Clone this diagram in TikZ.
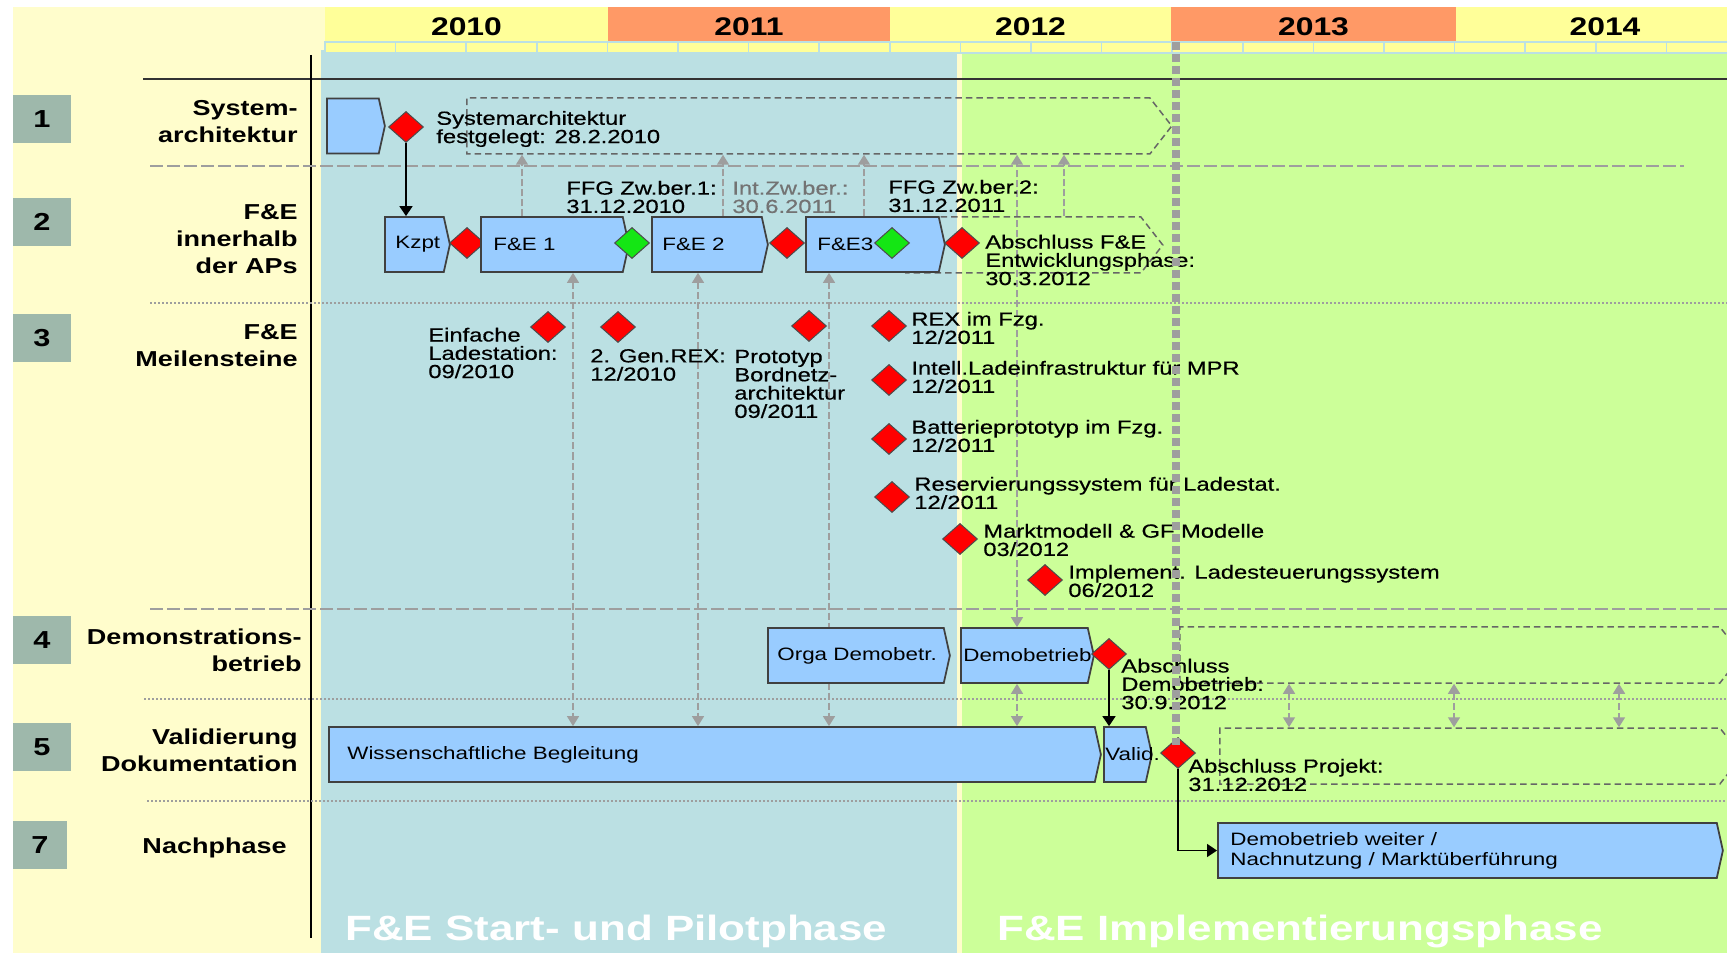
\documentclass[tikz,border=0pt]{standalone}
\usepackage{fontspec}
\setmainfont[FakeStretch=1.25]{Liberation Sans}
\newfontfamily\msfamily[FakeStretch=1.25,FakeBold=0.5]{Liberation Sans}
\usetikzlibrary{shapes.geometric,shapes.symbols,arrows.meta,positioning}

\definecolor{leftbg}{RGB}{255,253,204}
\definecolor{pilotbg}{RGB}{187,224,227}
\definecolor{implbg}{RGB}{204,255,153}
\definecolor{yearyel}{RGB}{255,255,153}
\definecolor{yearora}{RGB}{255,153,102}
\definecolor{numgray}{RGB}{158,184,171}
\definecolor{apblue}{RGB}{153,204,255}
\definecolor{msgreen}{RGB}{20,230,20}
\definecolor{linkgray}{RGB}{158,158,158}

\pgfdeclarelayer{back}
\pgfdeclarelayer{links}
\pgfsetlayers{back,links,main}

\tikzset{
  apbox/.style={signal, signal to=east, signal pointer angle=155, anchor=west,
    minimum height=11mm, inner sep=0pt, fill=apblue, draw=black!75, line width=0.35mm},
  planbox/.style={signal, signal to=east, signal pointer angle=104, anchor=west,
    minimum height=11.2mm, inner sep=0pt, draw=black!60, line width=0.3mm,
    dash pattern=on 1.3mm off 0.8mm},
  redms/.style={diamond, minimum width=7mm, minimum height=6.2mm, inner sep=0pt,
    fill=red, draw=black!70, line width=0.2mm},
  greenms/.style={redms, fill=msgreen},
  mslabel/.style={anchor=west, align=left, inner sep=0pt,
    font=\msfamily\fontsize{10.8}{10.4}\selectfont},
  boxtext/.style={anchor=west, align=left, inner sep=0pt,
    font=\fontsize{10.2}{11.3}\selectfont},
  rowlabel/.style={anchor=east, align=right, inner sep=0pt,
    font=\fontsize{12.3}{15.3}\selectfont\bfseries},
  rownum/.style={fill=numgray, minimum width=11.4mm, minimum height=9.6mm, inner sep=0pt,
    font=\fontsize{14}{14}\selectfont\bfseries},
  yearlabel/.style={inner sep=0pt, font=\fontsize{14.5}{14.5}\selectfont\bfseries},
  phase/.style={anchor=west, inner sep=0pt, text=white,
    font=\fontsize{20}{20}\selectfont\bfseries},
  link/.style={draw=linkgray, line width=0.3mm, dash pattern=on 1.4mm off 0.6mm},
  linkup/.style={link, -{Triangle[length=2mm,width=2.4mm]}},
  linkboth/.style={link, {Triangle[length=2mm,width=2.4mm]}-{Triangle[length=2mm,width=2.4mm]}},
  flow/.style={draw=black, line width=0.3mm, -{Triangle[length=2mm,width=2.6mm]}},
  sepdash/.style={draw=linkgray, line width=0.3mm, dash pattern=on 2.6mm off 0.8mm},
  sepdot/.style={draw=linkgray, line width=0.3mm, dash pattern=on 0.4mm off 0.4mm},
  today/.style={draw=linkgray, line width=1.7mm, dash pattern=on 1.6mm off 0.8mm}
}

\begin{document}
\begin{tikzpicture}[x=0.2mm, y=-0.2mm]
  \useasboundingbox (0,0) rectangle (1727,953);

  %%%%%%%%%%%%%The background%%%%%%%%%%%%%%%%%%%%%%
  \begin{pgfonlayer}{back}
  \fill[white] (0,0) rectangle (1727,953);
  \fill[leftbg] (13,7) rectangle (1727,953);
  \fill[pilotbg] (321,50) rectangle (957,953);
  \fill[implbg] (962,50) rectangle (1727,953);

  \foreach \yr/\xa/\xb/\yc in {2010/325/608/yearyel, 2011/608/890/yearora,
      2012/890/1171/yearyel, 2013/1171/1456/yearora, 2014/1456/1754/yearyel}{
    \fill[\yc] (\xa,7) rectangle (\xb,42);
    \node[yearlabel] (y\yr) at ({(\xa+\xb)/2},27) {\yr};
  }
  \foreach \q in {0,...,19}
    \draw[pilotbg, fill=yearyel, line width=0.3mm] ({325+70.6*\q},42) rectangle ({325+70.6*(\q+1)},53);

  \draw[black!80, line width=0.4mm] (143,79) -- (1727,79);
  \draw[black, line width=0.3mm] (311,55) -- (311,938);

  \draw[sepdash] (150,166) -- (1684,166);
  \draw[sepdot] (150,303) -- (1727,303);
  \draw[sepdash] (150,609) -- (1727,609);
  \draw[sepdot] (144,699) -- (1727,699);
  \draw[sepdot] (147,801) -- (1727,801);
  \end{pgfonlayer}

  %%%%%%%%%%%%%Row labels%%%%%%%%%%%%%%%%%%%%%%
  \node[rownum] (n1) at (42,119) {1};
  \node[rownum] (n2) at (42,222) {2};
  \node[rownum] (n3) at (42,338) {3};
  \node[rownum] (n4) at (42,640) {4};
  \node[rownum] (n5) at (42,747) {5};
  \node[rownum, minimum width=10.8mm] (n7) at (40,845) {7};

  \node[rowlabel] (r1) at (298,122) {System-\\architektur};
  \node[rowlabel] (r2) at (298,239) {F\&E\\innerhalb\\der APs};
  \node[rowlabel] (r3) at (298,346) {F\&E\\Meilensteine};
  \node[rowlabel] (r4) at (302,650) {Demonstrations-\\betrieb};
  \node[rowlabel] (r5) at (298,750) {Validierung\\Dokumentation};
  \node[rowlabel] (r7) at (287,848) {Nachphase};

  %%%%%%%%%%%%%Row 1%%%%%%%%%%%%%%%%%%%%%%
  \node[planbox, minimum width=141mm] (sysplan) at (466,126) {};
  \node[apbox, minimum width=11.6mm] (sysa) at (326,126) {};
  \node[redms] (d0) at (406,127) {};
  \node[mslabel] (t0) at (436,129) {Systemarchitektur\\festgelegt: 28.2.2010};

  %%%%%%%%%%%%%Row 2%%%%%%%%%%%%%%%%%%%%%%
  \node[planbox, minimum width=51.4mm] (devplan) at (905,245) {};
  \node[apbox, minimum width=13mm] (kzpt) at (384,244.5) {};
  \node[boxtext, right=2.2mm of kzpt.west] (kzptt) {Kzpt};
  \node[redms] (d1) at (467,243) {};
  \node[apbox, minimum width=29.6mm] (fe1) at (480,244.5) {};
  \node[boxtext, right=2.6mm of fe1.west] (fe1t) {F\&E 1};
  \node[greenms] (g1) at (632,243) {};
  \node[apbox, minimum width=23.2mm] (fe2) at (651,244.5) {};
  \node[boxtext, right=2.2mm of fe2.west] (fe2t) {F\&E 2};
  \node[redms] (d2) at (787,243) {};
  \node[apbox, minimum width=27.8mm] (fe3) at (805,244.5) {};
  \node[boxtext, right=2.4mm of fe3.west] (fe3t) {F\&E3};
  \node[greenms] (g2) at (892,243) {};
  \node[redms] (d3) at (962,243) {};
  \node[mslabel] (t3) at (985,260) {Abschluss F\&E\\Entwicklungsphase:\\30.3.2012};
  \node[mslabel] (t1) at (566,197) {FFG Zw.ber.1:\\31.12.2010};
  \node[mslabel, text=black!55] (t2) at (732,197) {Int.Zw.ber.:\\30.6.2011};
  \node[mslabel] (t4) at (888,196) {FFG Zw.ber.2:\\31.12.2011};

  %%%%%%%%%%%%%Row 3%%%%%%%%%%%%%%%%%%%%%%
  \node[redms] (m1) at (548,327) {};
  \node[mslabel] (m1t) at (428,353) {Einfache\\Ladestation:\\09/2010};
  \node[redms] (m2) at (618,327) {};
  \node[mslabel] (m2t) at (590,365) {2. Gen.REX:\\12/2010};
  \node[redms] (m3) at (809,326) {};
  \node[mslabel] (m3t) at (734,384) {Prototyp\\Bordnetz-\\architektur\\09/2011};
  \node[redms] (m4) at (889,326) {};
  \node[mslabel] (m4t) at (911,328) {REX im Fzg.\\12/2011};
  \node[redms] (m5) at (889,380) {};
  \node[mslabel] (m5t) at (911,377) {Intell.Ladeinfrastruktur für MPR\\12/2011};
  \node[redms] (m6) at (889,439) {};
  \node[mslabel] (m6t) at (911,436) {Batterieprototyp im Fzg.\\12/2011};
  \node[redms] (m7) at (892,497) {};
  \node[mslabel] (m7t) at (914,493) {Reservierungssystem für Ladestat.\\12/2011};
  \node[redms] (m8) at (960,539) {};
  \node[mslabel] (m8t) at (983,540) {Marktmodell \& GF Modelle\\03/2012};
  \node[redms] (m9) at (1045,580) {};
  \node[mslabel] (m9t) at (1068,581) {Implement. Ladesteuerungssystem\\06/2012};

  %%%%%%%%%%%%%Row 4%%%%%%%%%%%%%%%%%%%%%%
  \node[planbox, minimum width=112.4mm] (demoplan) at (1179,655) {};
  \node[apbox, minimum width=36.4mm] (orga) at (767,655.5) {};
  \node[boxtext, right=2mm of orga.west] (orgat) {Orga Demobetr.};
  \node[apbox, minimum width=26.6mm] (demo) at (960,655.5) {};
  \node[boxtext, right=0.6mm of demo.west] (demot) {Demobetrieb};
  \node[redms] (d4) at (1109,654) {};
  \node[mslabel] (t5) at (1121,684) {Abschluss\\Demobetrieb:\\30.9.2012};

  %%%%%%%%%%%%%Row 5%%%%%%%%%%%%%%%%%%%%%%
  \node[planbox, minimum width=104.4mm] (valplan) at (1219,756) {};
  \node[apbox, minimum width=154.4mm] (wiss) at (328,754.5) {};
  \node[boxtext, right=3.8mm of wiss.west] (wisst) {Wissenschaftliche Begleitung};
  \node[apbox, minimum width=9.6mm] (valid) at (1103,754.5) {};
  \node[boxtext, right=0.4mm of valid.west] (validt) {Valid.};
  \node[redms] (d5) at (1178,753) {};
  \node[mslabel] (t6) at (1188,775) {Abschluss Projekt:\\31.12.2012};

  %%%%%%%%%%%%%Row 7%%%%%%%%%%%%%%%%%%%%%%
  \node[apbox, minimum width=101mm] (post) at (1217,850.5) {};
  \node[boxtext, right=2.6mm of post.west] (postt) {Demobetrieb weiter /\\Nachnutzung / Marktüberführung};

  %%%%%%%%%%%%%Links%%%%%%%%%%%%%%%%%%%%%%
  \begin{pgfonlayer}{links}
  \draw[linkup] (fe1.north -| 522,0) -- (sysplan.south -| 522,0);
  \draw[linkup] (fe2.north -| 723,0) -- (sysplan.south -| 723,0);
  \draw[linkup] (fe3.north -| 864,0) -- (sysplan.south -| 864,0);
  \draw[linkup] (devplan.north -| 1064,0) -- (sysplan.south -| 1064,0);
  \draw[linkboth] (demo.north -| 1017,0) -- (sysplan.south -| 1017,0);
  \draw[linkboth] (fe1.south -| 573,0) -- (wiss.north -| 573,0);
  \draw[linkboth] (fe2.south -| 698,0) -- (wiss.north -| 698,0);
  \draw[linkboth] (fe3.south -| 829,0) -- (wiss.north -| 829,0);
  \draw[linkboth] (demo.south -| 1017,0) -- (wiss.north -| 1017,0);
  \foreach \xx in {1289,1454,1619}
    \draw[linkboth] (demoplan.south -| \xx,0) -- (valplan.north -| \xx,0);
  \end{pgfonlayer}

  \draw[flow] (d0.south) -- (d0.south |- kzpt.north);
  \draw[flow] (d4.south) -- (d4.south |- valid.north);
  \draw[flow] (d5.south) |- (post.west);

  \draw[today] (1176,42) -- (1176,745);

  \node[phase] (p1) at (345,931) {F\&E Start- und Pilotphase};
  \node[phase] (p2) at (997,931) {F\&E Implementierungsphase};
\end{tikzpicture}
\end{document}
